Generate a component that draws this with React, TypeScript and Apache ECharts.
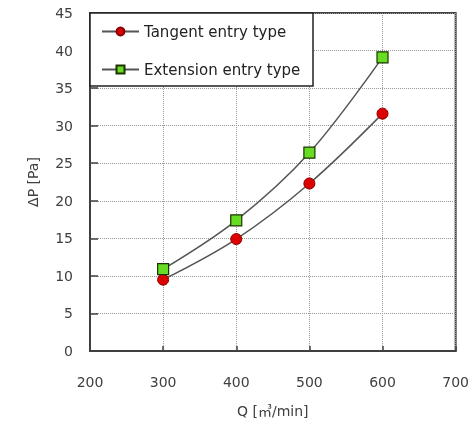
import React, { useEffect, useRef } from "react";
import * as echarts from "echarts";

const flowQ = [300, 400, 500, 600];
const tangentDP = [9.5, 14.9, 22.3, 31.6];
const extensionDP = [10.9, 17.4, 26.4, 39.1];
const seriesNames = ["Tangent entry type", "Extension entry type"];
const xAxisName = "Q [㎥/min]";
const yAxisName = "ΔP [Pa]";

const FONT = "DejaVu Sans, 'Noto Sans CJK JP'";
const AXIS = "#404040";

export default function App() {
  const ref = useRef<HTMLDivElement>(null);
  useEffect(() => {
    if (!ref.current) return;
    const chart = echarts.init(ref.current, undefined, { renderer: "svg" });
    const pts = (ys: number[]) => flowQ.map((x, i) => [x, ys[i]]);
    chart.setOption({
      animation: false,
      textStyle: { fontFamily: FONT },
      grid: {
        left: 90,
        right: 16,
        top: 13,
        bottom: 74,
        show: true,
        borderColor: AXIS,
        borderWidth: 2,
        backgroundColor: "#fff",
      },
      graphic: [
        {
          type: "rect",
          z: 3,
          shape: { x: 90, y: 13, width: 223, height: 73 },
          style: { fill: "#fff", stroke: "#222", lineWidth: 1.5 },
        },
      ],
      legend: {
        show: true,
        orient: "vertical",
        left: 101,
        top: 23,
        padding: 0,
        itemGap: 21,
        itemWidth: 37,
        itemHeight: 10,
        z: 4,
        textStyle: { fontFamily: FONT, fontSize: 15, color: "#222", lineHeight: 17 },
        data: seriesNames,
      },
      xAxis: {
        type: "value",
        min: 200,
        max: 700,
        interval: 100,
        name: xAxisName,
        nameLocation: "middle",
        nameGap: 53,
        nameTextStyle: { fontFamily: FONT, fontSize: 14, color: AXIS },
        axisLine: { show: true, lineStyle: { color: AXIS, width: 2 } },
        axisTick: { show: true, inside: true, length: 5, lineStyle: { color: AXIS, width: 1.5 } },
        axisLabel: { fontFamily: FONT, fontSize: 14, color: AXIS, margin: 24 },
        splitLine: { show: true, lineStyle: { color: "#999", type: "dotted", width: 1 } },
      },
      yAxis: {
        type: "value",
        min: 0,
        max: 45,
        interval: 5,
        name: yAxisName,
        nameLocation: "middle",
        nameGap: 50,
        nameTextStyle: { fontFamily: FONT, fontSize: 14, color: AXIS },
        axisLine: { show: true, lineStyle: { color: AXIS, width: 2 } },
        axisTick: { show: true, inside: true, length: 8, lineStyle: { color: AXIS, width: 1.5 } },
        axisLabel: { fontFamily: FONT, fontSize: 14, color: AXIS, margin: 17 },
        splitLine: { show: true, lineStyle: { color: "#999", type: "dotted", width: 1 } },
      },
      series: [
        {
          name: seriesNames[0],
          type: "line",
          data: pts(tangentDP),
          smooth: 0.35,
          symbol: "circle",
          symbolSize: 11,
          lineStyle: { color: "#555", width: 1.5 },
          itemStyle: { color: "#dd0000", borderColor: "#8b0000", borderWidth: 1 },
          z: 2,
        },
        {
          name: seriesNames[1],
          type: "line",
          data: pts(extensionDP),
          smooth: 0.35,
          symbol: "rect",
          symbolSize: 11,
          lineStyle: { color: "#555", width: 1.5 },
          itemStyle: { color: "#66dd22", borderColor: "#1a3300", borderWidth: 1.2 },
          z: 2,
        },
      ],
    });
    return () => chart.dispose();
  }, []);
  return (
    <div
      ref={ref}
      style={{ position: "fixed", left: 0, top: 0, width: 472, height: 425 }}
    />
  );
}
